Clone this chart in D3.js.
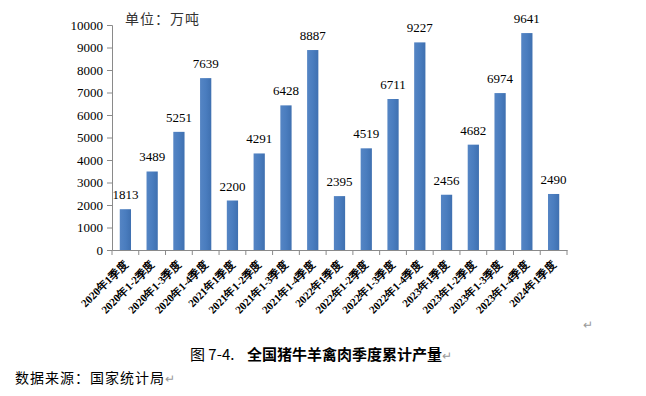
<!DOCTYPE html>
<html><head><meta charset="utf-8">
<script src="https://cdn.jsdelivr.net/npm/d3@7"></script>
<style>body{margin:0;background:#fff;} svg{display:block;}</style>
</head><body>
<script>
const categories = ["2020年1季度","2020年1-2季度","2020年1-3季度","2020年1-4季度","2021年1季度","2021年1-2季度","2021年1-3季度","2021年1-4季度","2022年1季度","2022年1-2季度","2022年1-3季度","2022年1-4季度","2023年1季度","2023年1-2季度","2023年1-3季度","2023年1-4季度","2024年1季度"];
const values = [1813,3489,5251,7639,2200,4291,6428,8887,2395,4519,6711,9227,2456,4682,6974,9641,2490];
const yTicks = [0,1000,2000,3000,4000,5000,6000,7000,8000,9000,10000];

(function(){
const W=646,H=396;
const svg=d3.select("body").append("svg").attr("width",W).attr("height",H);
const pL=112,pR=567,pT=25,pB=250;
const x=d3.scaleBand().domain(categories).range([pL,pR]).paddingInner(0.58).paddingOuter(0.29);
const y=d3.scaleLinear().domain([0,10000]).range([pB,pT]);
const axisColor="#8a8a8a";
const serif="'Liberation Serif','Times New Roman',serif";
const cjk="'Noto Sans CJK SC','Noto Sans',sans-serif";

const grad=svg.append("defs").append("linearGradient").attr("id","g").attr("x1","0").attr("x2","1");
grad.append("stop").attr("offset","0").attr("stop-color","#5585c4");
grad.append("stop").attr("offset","0.5").attr("stop-color","#4a7dbf");
grad.append("stop").attr("offset","1").attr("stop-color","#3f70b0");
svg.selectAll("rect.bar").data(values).enter().append("rect")
  .attr("x",(d,i)=>x(categories[i])).attr("width",x.bandwidth())
  .attr("y",d=>y(d)).attr("height",d=>pB-y(d)).attr("fill","url(#g)");

svg.selectAll("text.val").data(values).enter().append("text")
  .attr("x",(d,i)=>x(categories[i])+x.bandwidth()/2).attr("y",d=>y(d)-10)
  .attr("text-anchor","middle").attr("font-family",serif).attr("font-size",13).attr("fill","#000")
  .text(d=>d);

const ya=svg.append("g").attr("transform",`translate(${pL},0)`)
  .call(d3.axisLeft(y).tickValues(yTicks).tickSize(5).tickPadding(4).tickFormat(d3.format("d")));
ya.select(".domain").attr("stroke",axisColor);
ya.selectAll(".tick line").attr("stroke",axisColor);
ya.selectAll("text").attr("font-family",serif).attr("font-size",13).attr("fill","#000");

const xa=svg.append("g").attr("transform",`translate(0,${pB})`)
  .call(d3.axisBottom(x).tickSize(0).tickFormat(""));
xa.select(".domain").attr("stroke",axisColor);
const step=x.step();
svg.selectAll("line.xt").data(d3.range(categories.length+1)).enter().append("line")
  .attr("x1",i=>pL+i*step).attr("x2",i=>pL+i*step)
  .attr("y1",pB).attr("y2",pB+5).attr("stroke",axisColor);

svg.selectAll("text.xl").data(categories).enter().append("text")
  .attr("transform",d=>`translate(${x(d)+x.bandwidth()/2+3},${pB+15}) rotate(-45)`)
  .attr("text-anchor","end").attr("font-family",serif).attr("font-weight","bold")
  .attr("font-size",11).attr("fill","#000").text(d=>d);

svg.append("text").attr("x",125).attr("y",24).attr("font-family",cjk).attr("font-size",14).attr("letter-spacing",1).attr("fill","#333").text("单位：万吨");

svg.append("text").attr("x",583).attr("y",329).attr("font-family",cjk).attr("font-size",12).attr("fill","#999").text("↵");

const cap=svg.append("text").attr("x",190).attr("y",360).attr("font-family",cjk).attr("font-size",15).attr("fill","#000");
cap.append("tspan").text("图 7-4.");
cap.append("tspan").attr("x",247).attr("font-weight","bold").text("全国猪牛羊禽肉季度累计产量");
cap.append("tspan").attr("fill","#999").attr("font-size",12).text("↵");

const src=svg.append("text").attr("x",15).attr("y",383).attr("font-family",cjk).attr("font-size",14).attr("letter-spacing",1).attr("fill","#000");
src.append("tspan").text("数据来源：国家统计局");
src.append("tspan").attr("fill","#999").attr("font-size",12).text("↵");
})();
</script>
</body></html>
